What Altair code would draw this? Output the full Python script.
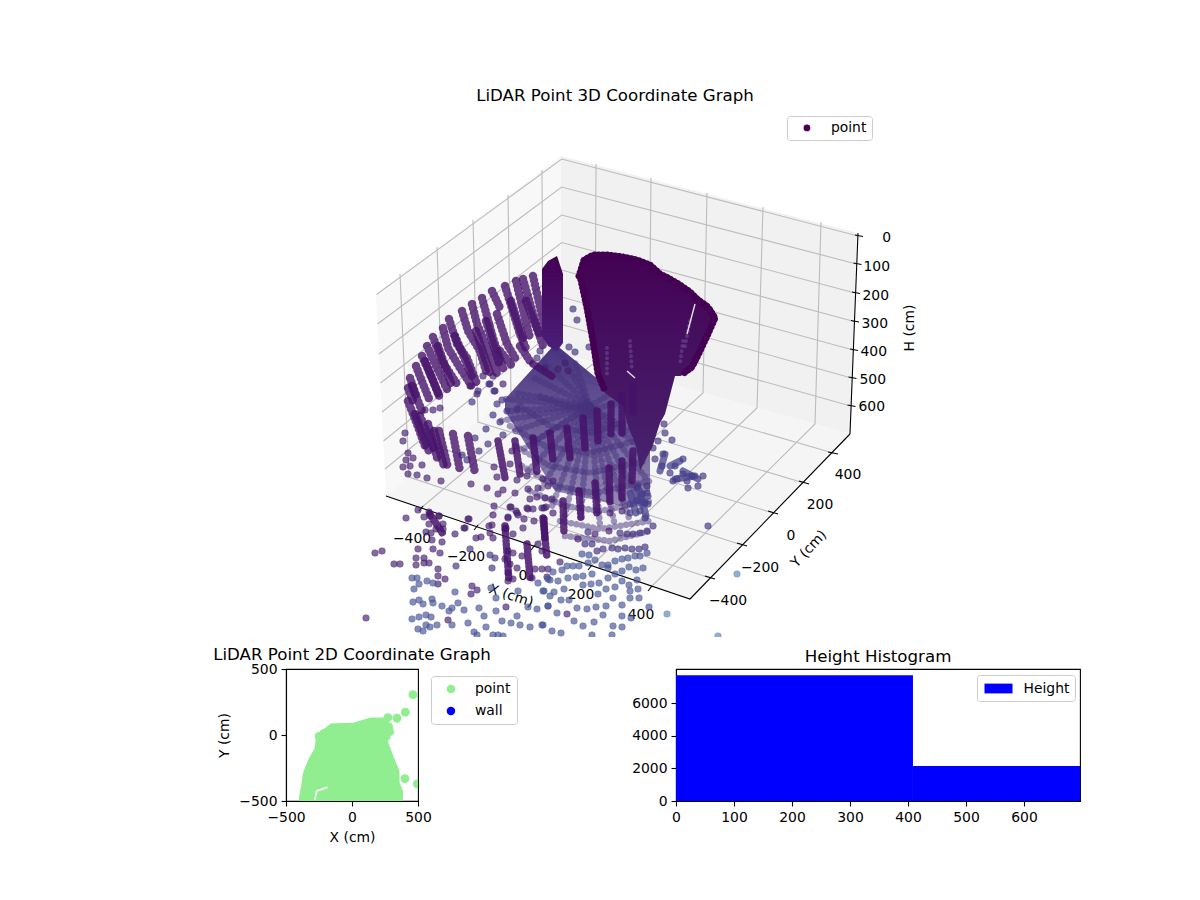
import altair as alt
import pandas as pd

FONT = 'DejaVu Sans'

# 3D panel values in screen position
left_wall = [(376, 294, 294), (386, 286, 495), (561, 155, 352)]
right_wall = [(561, 155, 352), (850, 230, 433), (857, 232, 232)]
floor_pane = [(386, 495, 495), (561, 352, 554), (690, 388, 598), (850, 433, 433)]

h_grid = [
    [(376.5, 293.5), (561.7, 158), (858, 235)],
    [(377.5, 323), (561.7, 186), (856.5, 263)],
    [(379, 353), (561.7, 214), (855, 292)],
    [(380.5, 382), (561.7, 241.5), (854, 320.5)],
    [(382, 411), (561.7, 269), (853, 349)],
    [(383.5, 440), (561.7, 296), (851.5, 377)],
    [(385, 468), (561.7, 323.5), (850.5, 405)],
]
y_grid = [
    [(400, 273), (409, 476), (710, 577)],
    [(437, 246), (444, 448), (742, 544)],
    [(473, 219), (478, 421), (773, 512)],
    [(508, 194), (511, 394), (804, 482)],
    [(542, 169), (543, 368), (833, 452)],
]
x_grid = [
    [(596, 163), (595, 361), (421, 507)],
    [(651, 177), (649, 377), (476, 526)],
    [(707, 192), (703, 392), (533, 546)],
    [(763, 206), (757, 407), (590, 566)],
    [(821, 221), (815, 423), (650, 587)],
]
axis_lines = [
    [(386, 495), (690, 598), (850, 433)],
    [(858, 232), (850, 433)],
]
tick_marks = [
    [(423, 505), (419, 510)], [(478, 524), (474, 529)], [(535, 544), (531, 549)],
    [(592, 564), (588, 569)], [(652, 585), (648, 590)],
    [(705, 575), (715, 578)], [(737, 542), (747, 545)], [(768, 510), (778, 513)],
    [(799, 480), (809, 483)], [(828, 451), (838, 453)],
    [(855, 234), (863, 235.5)], [(853.5, 262), (861.5, 263.5)], [(852, 291), (860, 292.5)],
    [(851, 319.5), (859, 321)], [(850, 348), (858, 349.5)], [(848.5, 376), (856.5, 377.5)],
    [(847.5, 404), (855.5, 405.5)],
]
axis_text = [
    (412, 538, '−400'), (466, 556, '−200'), (523, 575, '0'), (581, 594, '200'), (641, 614, '400'),
    (848, 474, '400'), (820, 504, '200'), (791, 535, '0'), (760, 567, '−200'), (728, 600, '−400'),
]
h_text = [
    (891, 237, '0'), (890, 266, '100'), (889, 295, '200'), (888, 323, '300'),
    (887, 351, '400'), (886, 379, '500'), (885, 406, '600'),
]

# dense shapes of the scan
main_blob = [
    (577, 273, 273), (582, 258, 290), (587, 254, 307), (593, 252, 340), (598, 252, 373),
    (605, 253, 392), (623, 255, 405), (628, 256, 425), (636, 259, 445), (640, 260, 470),
    (650, 263, 450), (652, 265, 447), (660, 272, 422), (665, 275, 413), (675, 280, 375),
    (680, 283, 375), (687, 288, 373), (697, 297, 363), (710, 305, 333), (718, 317, 317),
]
blob_outline = [
    (579, 275), (584, 259), (593, 254), (607, 254), (623, 256), (637, 259), (650, 264), (660, 273),
    (670, 278), (680, 284), (690, 291), (697, 298), (708, 306), (715, 317), (708, 333), (700, 350),
    (692, 366), (684, 372),
]
blob_left_edge = [(580, 275), (587, 307), (593, 340), (598, 373), (605, 390)]
side_column = [(542, 268, 335), (548, 260, 345), (557, 255, 350), (563, 273, 342)]
fan_area = [(505, 398, 410), (555, 343, 490), (622, 398, 505), (650, 440, 490)]

arc_strands = [
    [(533, 275), (547, 337)],
    [(523, 278), (537, 327), (543, 345)],
    [(516, 280), (530, 337)],
    [(505, 285), (520, 333), (527, 350)],
    [(492, 290), (500, 307)],
    [(497, 313), (507, 343), (517, 360)],
    [(482, 297), (493, 337), (503, 367)],
    [(472, 303), (477, 323), (490, 353), (497, 373)],
    [(462, 310), (468, 330), (480, 350), (487, 373)],
    [(449, 318), (457, 343), (467, 357), (477, 383)],
    [(443, 327), (448, 347), (460, 367), (473, 387)],
    [(433, 336), (442, 360), (457, 383)],
    [(427, 345), (437, 367), (448, 390)],
    [(422, 355), (432, 377), (440, 397)],
    [(416, 365), (423, 383), (430, 400)],
    [(410, 377), (417, 397)],
    [(408, 387), (413, 400)],
    [(408, 400), (417, 423), (425, 445)],
    [(415, 413), (430, 453)],
    [(428, 423), (438, 460)],
    [(439, 430), (448, 467)],
    [(453, 433), (460, 470)],
    [(468, 435), (475, 472)],
    [(526, 300), (540, 335)],
    [(511, 300), (524, 340)],
    [(486, 320), (500, 365)],
    [(476, 330), (490, 372)],
    [(455, 335), (472, 375)],
    [(438, 345), (452, 385)],
    [(425, 360), (438, 392)],
    [(412, 385), (422, 410)],
    [(420, 415), (435, 450)],
    [(434, 430), (444, 465)],
    [(500, 350), (512, 365)],
    [(520, 345), (530, 360)],
]
dark_columns = [
    [(498, 440), (505, 477)], [(515, 440), (520, 473)], [(533, 437), (537, 472)],
    [(550, 432), (553, 460)], [(567, 427), (570, 457)], [(583, 417), (585, 447)],
    [(597, 410), (598, 440)], [(611, 403), (611, 433)], [(622, 395), (622, 432)],
    [(633, 385), (633, 413)], [(595, 482), (597, 513)], [(609, 467), (610, 502)],
    [(622, 460), (622, 500)], [(633, 450), (632, 480)], [(579, 490), (581, 517)],
    [(563, 500), (564, 533)], [(544, 518), (545, 540)], [(505, 525), (509, 580)],
    [(543, 517), (547, 557)], [(527, 543), (530, 577)], [(430, 513), (443, 533)],
    [(533, 363), (553, 376)],
]
fan_spokes = [
    [(590, 405), (510, 410)], [(590, 405), (515, 430)], [(590, 405), (520, 450)],
    [(590, 405), (528, 470)], [(590, 405), (540, 490)], [(590, 405), (552, 505)],
    [(590, 405), (565, 515)], [(590, 405), (580, 522)], [(590, 405), (600, 525)],
    [(590, 405), (615, 525)], [(590, 405), (630, 520)], [(590, 405), (642, 505)],
    [(590, 405), (648, 480)], [(590, 405), (650, 455)], [(590, 405), (645, 440)],
    [(590, 405), (560, 352)], [(590, 405), (545, 362)], [(590, 405), (530, 375)],
    [(590, 405), (515, 392)], [(590, 405), (610, 393)], [(590, 405), (575, 362)],
    [(590, 405), (505, 398)], [(590, 405), (535, 440)], [(590, 405), (500, 420)],
]
fan_arcs = [
    [(540, 395), (565, 405), (590, 410), (615, 402)],
    [(520, 405), (550, 425), (590, 432), (628, 420)],
    [(510, 425), (545, 445), (590, 452), (635, 440)],
    [(515, 445), (550, 465), (590, 472), (645, 460)],
    [(522, 465), (555, 485), (595, 492), (650, 480)],
    [(530, 490), (565, 505), (600, 510), (650, 500)],
    [(560, 520), (600, 528), (650, 520)],
    [(565, 535), (610, 540), (650, 530)],
]
blob_strands = [
    [(607, 347), (607, 373)], [(630, 340), (632, 370)], [(683, 340), (680, 363)],
    [(690, 320), (684, 350)],
]
cluster_strands = [
    [(665, 453), (660, 470)], [(670, 465), (680, 460)], [(675, 478), (695, 475)],
    [(640, 490), (646, 515)], [(630, 492), (636, 512)], [(683, 470), (698, 478)],
    [(636, 500), (648, 495)],
]
slits = [[(695, 303), (687, 333)], [(627, 370), (635, 377)]]

legend_points = [(640, 300)]
dark_points = [
    (406, 517), (418, 509), (430, 515), (429, 523), (439, 515), (443, 523), (443, 528), (426, 531),
    (431, 532), (436, 528), (455, 533), (465, 527), (469, 518), (494, 505), (493, 514), (508, 516),
    (510, 506), (476, 537), (481, 536), (489, 525), (490, 532), (493, 537), (505, 528), (513, 533),
    (432, 539), (442, 541), (418, 548), (433, 548), (440, 552), (375, 552), (382, 550), (394, 563),
    (400, 563), (416, 557), (424, 557), (429, 562), (416, 564), (424, 562), (438, 568), (438, 575),
    (445, 578), (438, 583), (472, 585), (477, 589), (471, 593), (366, 617), (448, 619), (506, 606),
    (508, 572), (508, 580), (513, 578), (517, 567), (522, 555), (508, 550), (505, 558), (510, 563),
    (513, 552), (534, 520), (524, 518), (516, 510), (518, 514), (528, 508), (542, 507), (546, 506),
    (538, 543), (542, 550), (535, 568), (542, 568), (548, 568), (532, 577), (560, 561), (547, 576),
    (567, 613), (609, 530), (595, 533), (578, 538), (490, 383), (503, 383), (495, 390), (493, 375),
    (483, 375), (470, 385), (477, 393), (403, 440), (405, 432), (408, 452), (406, 459), (403, 466),
    (410, 465), (408, 473), (413, 457), (422, 464), (417, 474), (427, 477), (441, 480), (471, 483),
    (487, 487), (498, 493), (503, 489), (515, 492), (494, 466), (497, 476), (512, 450), (510, 463),
    (517, 479), (527, 475), (528, 488), (538, 487), (543, 478), (511, 506), (517, 512), (508, 517),
    (530, 498), (548, 485), (553, 480), (545, 497), (537, 496), (552, 498), (527, 507), (533, 508),
    (544, 507), (553, 512), (424, 516), (429, 511), (439, 515), (468, 518), (464, 527), (492, 524),
    (506, 527), (523, 527), (440, 407), (433, 409), (425, 409), (545, 367), (565, 362), (568, 370),
    (558, 368), (622, 510), (610, 512),
]
mid_points = [
    (540, 350), (537, 357), (555, 347), (573, 308), (577, 319), (569, 346), (575, 351), (589, 346),
    (479, 450), (488, 443), (475, 437), (462, 454), (467, 459), (486, 428), (493, 414), (500, 421),
    (503, 434), (497, 403), (507, 410), (517, 408), (502, 399), (489, 383), (494, 390), (472, 401),
    (478, 390), (655, 458), (663, 453), (662, 465), (670, 472), (675, 465), (683, 458), (683, 473),
    (692, 475), (687, 480), (677, 478), (673, 480), (703, 475), (698, 485), (688, 487), (672, 439),
    (664, 423), (665, 432), (658, 440), (653, 447), (638, 485), (647, 485), (642, 493), (647, 492),
    (645, 502), (648, 503), (637, 500), (630, 503), (640, 510), (645, 517), (630, 512), (637, 487),
    (653, 525), (647, 530), (640, 532), (633, 533), (627, 533), (620, 532), (588, 531), (645, 546),
    (639, 548), (632, 548), (625, 547), (618, 548), (612, 547), (603, 548), (597, 550), (585, 543),
    (592, 543), (470, 548), (490, 554), (495, 557), (456, 565), (492, 567), (708, 525),
]
light_points = [
    (647, 552), (640, 555), (635, 555), (628, 557), (622, 558), (615, 560), (608, 564), (602, 564),
    (595, 559), (589, 554), (582, 553), (643, 567), (636, 569), (629, 566), (622, 570), (615, 573),
    (608, 567), (588, 562), (579, 565), (573, 565), (567, 565), (562, 569), (553, 571), (637, 579),
    (629, 584), (622, 580), (608, 577), (599, 582), (592, 573), (583, 575), (576, 576), (568, 577),
    (558, 580), (550, 579), (638, 588), (630, 590), (639, 597), (630, 597), (615, 586), (606, 588),
    (598, 593), (591, 583), (583, 584), (564, 588), (554, 591), (550, 595), (543, 590), (622, 604),
    (613, 597), (606, 605), (596, 606), (587, 608), (577, 607), (569, 599), (561, 599), (557, 612),
    (548, 605), (631, 617), (622, 615), (603, 614), (594, 621), (583, 625), (574, 620), (543, 624),
    (622, 626), (613, 625), (612, 634), (592, 634), (561, 632), (552, 630), (412, 577), (417, 577),
    (427, 580), (433, 582), (419, 583), (414, 588), (455, 591), (491, 587), (496, 597), (413, 601),
    (419, 599), (423, 603), (432, 598), (433, 602), (442, 605), (449, 610), (452, 607), (458, 602),
    (464, 609), (479, 607), (496, 610), (412, 618), (419, 616), (426, 614), (431, 616), (452, 624),
    (468, 622), (484, 615), (502, 620), (511, 622), (517, 615), (518, 590), (520, 624), (530, 626),
    (542, 624), (418, 628), (423, 630), (426, 624), (430, 626), (437, 624), (474, 631), (486, 626),
    (493, 634), (498, 634), (503, 635), (477, 634), (528, 606), (537, 608), (548, 605), (544, 590),
    (538, 582), (548, 578), (649, 606),
]
far_points = [(737, 573), (718, 635), (667, 613)]

# 2D panel
green_upper = [
    (-366, -500), (-361, -457), (-348, -393), (-333, -292), (-297, -203), (-247, -114), (-234, -13),
    (-214, -5), (-146, 51), (-108, 51), (19, 56), (146, 94), (235, 94), (236, -60), (285, -190),
    (322, -279), (323, -368), (348, -431), (349, -500),
]
green_points = [
    (462, 305), (404, 173), (341, 127), (272, 132), (401, -330), (495, -371), (-250, -10), (-240, -40),
    (-235, -30), (-215, 10), (-190, 20), (259, -13), (285, 25), (247, 94), (277, 63), (222, -60),
    (-239, -475),
]
hole_line = [(-280, -490), (-267, -424), (-184, -396)]

# histogram
bin_start = [0, 408.6]
bin_end = [408.6, 696.6]
bin_count = [7700, 2143]


def polylines(paths):
    rows = []
    for n, path in enumerate(paths):
        for i, (x, y) in enumerate(path):
            rows.append({'id': n, 'i': i, 'x': x, 'y': y})
    return pd.DataFrame(rows)


sx = alt.Scale(domain=[286, 1080])
sy = alt.Scale(domain=[636, 108])


def draw_lines(paths, **mark):
    return alt.Chart(polylines(paths)).mark_line(clip=True, **mark).encode(
        x=alt.X('x:Q', scale=sx, axis=None),
        y=alt.Y('y:Q', scale=sy, axis=None),
        detail='id:N',
        order='i:Q',
    )


def draw_area(rows, **mark):
    df = pd.DataFrame(rows, columns=['x', 'y', 'y2'])
    return alt.Chart(df).mark_area(**mark).encode(
        x=alt.X('x:Q', scale=sx, axis=None),
        y=alt.Y('y:Q', scale=sy, axis=None),
        y2='y2:Q',
    )


def draw_text(rows, **mark):
    df = pd.DataFrame(rows, columns=['x', 'y', 'label'])
    return alt.Chart(df).mark_text(font=FONT, fontSize=13.9, color='black', **mark).encode(
        x=alt.X('x:Q', scale=sx, axis=None),
        y=alt.Y('y:Q', scale=sy, axis=None),
        text='label:N',
    )


def fade(top, bottom):
    return alt.Gradient(
        gradient='linear',
        stops=[alt.GradientStop(color=top, offset=0), alt.GradientStop(color=bottom, offset=1)],
        x1=0, x2=0, y1=0, y2=1,
    )


beads = dict(strokeCap='round', strokeJoin='round')
groups = ['point', 'dark', 'mid', 'light', 'far']
shades = ['#440154', '#46206f', '#41307f', '#465494', '#5b86b1']
point_rows = (
    [('point', x, y) for x, y in legend_points]
    + [('dark', x, y) for x, y in dark_points]
    + [('mid', x, y) for x, y in mid_points]
    + [('light', x, y) for x, y in light_points]
    + [('far', x, y) for x, y in far_points]
)
points_df = pd.DataFrame(point_rows, columns=['group', 'x', 'y'])
shade_scale = alt.Scale(domain=groups, range=shades)

scatter = alt.Chart(points_df).mark_circle(
    size=44, fillOpacity=0.66, strokeOpacity=0.35, strokeWidth=1, clip=True
).encode(
    x=alt.X('x:Q', scale=sx, axis=None),
    y=alt.Y('y:Q', scale=sy, axis=None),
    color=alt.Color(
        'group:N',
        scale=shade_scale,
        legend=alt.Legend(
            values=['point'], title=None, orient='none', legendX=501, legendY=7,
            symbolSize=46, symbolOpacity=1, symbolType='circle', symbolStrokeWidth=0,
            symbolOffset=8, labelOffset=17, padding=5,
        ),
    ),
    stroke=alt.Stroke('group:N', scale=shade_scale, legend=None),
)

panel_3d = alt.layer(
    draw_area(left_wall, color='#f8f8f8'),
    draw_area(right_wall, color='#f1f1f1'),
    draw_area(floor_pane, color='#f5f5f5'),
    draw_lines(h_grid + y_grid + x_grid, color='#bcbcbc', strokeWidth=1.1),
    draw_lines(axis_lines, color='black', strokeWidth=1.1),
    draw_lines(tick_marks, color='black', strokeWidth=1.1),
    draw_text(axis_text, align='center', baseline='middle'),
    draw_text(h_text, align='right', baseline='middle'),
    draw_text([(511, 595, 'X (cm)')], align='center', baseline='middle', angle=18),
    draw_text([(809, 548, 'Y (cm)')], align='center', baseline='middle', angle=313),
    draw_text([(910, 327, 'H (cm)')], align='center', baseline='middle', angle=270),
    draw_area(fan_area, color=fade('#46327e', 'rgba(70,50,126,0.55)')),
    draw_lines(fan_spokes + fan_arcs, color='#46327e', strokeWidth=6.5, opacity=0.5, strokeDash=[0.1, 5.5], **beads),
    scatter,
    draw_lines(arc_strands, color='#47136c', strokeWidth=8.5, opacity=0.8, strokeDash=[0.1, 4.2], **beads),
    draw_area(side_column, color=fade('#440154', '#4a1f78')),
    draw_area(main_blob, color=fade('#440154', '#47246f')),
    draw_lines([blob_outline, blob_left_edge], color='#440154', strokeWidth=7, strokeDash=[0.1, 4], **beads),
    draw_lines(blob_strands, color='#8a6fb0', strokeWidth=4, opacity=0.35, strokeDash=[0.1, 5], **beads),
    draw_lines(slits, color='#ffffff', strokeWidth=1.4, opacity=0.85),
    draw_lines(cluster_strands, color='#45408c', strokeWidth=7, opacity=0.75, **beads),
    draw_lines(dark_columns, color='#45126a', strokeWidth=7.5, opacity=0.85, strokeDash=[0.1, 3.6], **beads),
).properties(
    width=794,
    height=528,
    title=alt.TitleParams('LiDAR Point 3D Coordinate Graph', dx=-68, fontSize=16.67, font=FONT, fontWeight='normal', offset=4),
    view=alt.ViewBackground(stroke='transparent'),
)

# 2D scatter
x2d = alt.Scale(domain=[-500, 500], nice=False)
y2d = alt.Scale(domain=[-500, 500], nice=False)
green_df = pd.DataFrame(green_upper, columns=['x', 'y'])
green_df['floor'] = -500
green_pts = pd.DataFrame(green_points, columns=['x', 'y'])
green_pts['kind'] = 'point'

blob_2d = alt.Chart(green_df).mark_area(
    color='lightgreen', stroke='lightgreen', strokeWidth=10, strokeJoin='round', clip=True
).encode(
    x=alt.X('x:Q', scale=x2d, title='X (cm)', axis=alt.Axis(values=[-500, 0, 500], format='d')),
    y=alt.Y('y:Q', scale=y2d, title='Y (cm)', axis=alt.Axis(values=[-500, 0, 500], format='d')),
    y2='floor:Q',
)
hole_2d = alt.Chart(pd.DataFrame(hole_line, columns=['x', 'y'])).mark_line(
    color='white', strokeWidth=1.8, clip=True
).encode(x=alt.X('x:Q', scale=x2d), y=alt.Y('y:Q', scale=y2d), order=alt.Order('x:Q'))
dots_2d = alt.Chart(green_pts).mark_circle(size=78, opacity=1, clip=True).encode(
    x=alt.X('x:Q', scale=x2d),
    y=alt.Y('y:Q', scale=y2d),
    color=alt.Color(
        'kind:N',
        scale=alt.Scale(domain=['point', 'wall'], range=['lightgreen', 'blue']),
        legend=alt.Legend(
            title=None, orient='none', legendX=145, legendY=7, symbolSize=72, symbolType='circle',
            symbolOffset=7, labelOffset=17, padding=6,
        ),
    ),
)
panel_2d = alt.layer(blob_2d, hole_2d, dots_2d).properties(
    width=132,
    height=132,
    title=alt.TitleParams('LiDAR Point 2D Coordinate Graph', fontSize=16.67, font=FONT, fontWeight='normal', offset=-2),
    view=alt.ViewBackground(stroke='black', strokeWidth=1.1),
)

# histogram
hist_df = pd.DataFrame({'start': bin_start, 'end': bin_end, 'count': bin_count, 'base': 0, 'name': 'Height'})
panel_hist = alt.Chart(hist_df).mark_bar().encode(
    x=alt.X('start:Q', scale=alt.Scale(domain=[0, 696.6], nice=False), title=None,
            axis=alt.Axis(values=[0, 100, 200, 300, 400, 500, 600])),
    x2='end:Q',
    y=alt.Y('count:Q', scale=alt.Scale(domain=[0, 8085], nice=False), title=None,
            axis=alt.Axis(values=[0, 2000, 4000, 6000], format='d')),
    y2='base:Q',
    color=alt.Color(
        'name:N',
        scale=alt.Scale(domain=['Height'], range=['blue']),
        legend=alt.Legend(
            title=None, orient='none', legendX=301, legendY=6, symbolSize=196,
            symbolType='M-2,-0.7H2V0.7H-2Z', symbolOffset=8, labelOffset=17, padding=5.5,
        ),
    ),
).properties(
    width=404,
    height=132,
    title=alt.TitleParams('Height Histogram', fontSize=16.67, font=FONT, fontWeight='normal', offset=3),
    view=alt.ViewBackground(stroke='black', strokeWidth=1.1),
)

bottom_row = alt.hconcat(panel_2d, panel_hist, spacing=258, bounds='flush').resolve_scale(color='independent')

chart = alt.vconcat(
    panel_3d,
    bottom_row,
    spacing=32,
    bounds='flush',
).resolve_scale(color='independent', stroke='independent').properties(
    padding={'left': 204, 'top': 79, 'right': 60, 'bottom': 30},
    background='white',
).configure_axis(
    labelFont=FONT,
    labelFontSize=13.9,
    labelColor='black',
    titleFont=FONT,
    titleFontSize=13.9,
    titleFontWeight='normal',
    titleColor='black',
    titlePadding=7,
    tickColor='black',
    tickSize=5,
    tickWidth=1.1,
    domainColor='black',
    domainWidth=1.1,
    grid=False,
    labelOverlap=False,
    labelFlush=False,
    labelPadding=4,
).configure_legend(
    labelFont=FONT,
    labelFontSize=13.9,
    labelColor='black',
    fillColor='white',
    strokeColor='#cccccc',
    cornerRadius=3,
    rowPadding=7,
)

chart.save("out.html", embed_options={"renderer": "svg", "actions": False})
